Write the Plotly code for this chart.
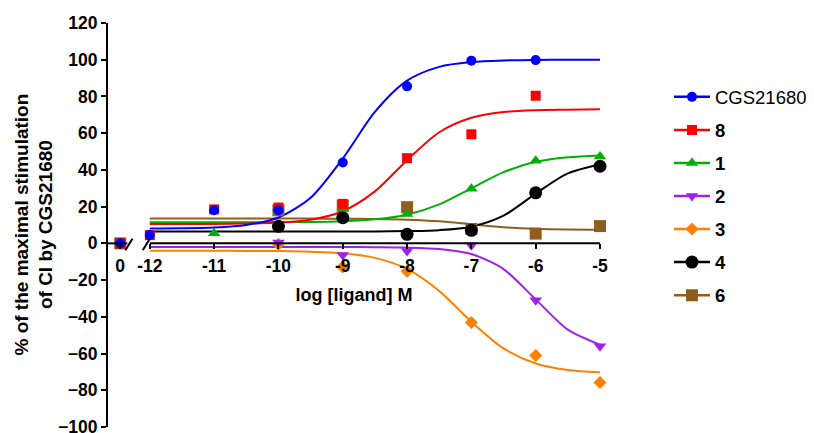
import plotly.graph_objects as go

# ---------------- data ----------------
CONTROL_POS = -12.46                      # where the "0" (control) column sits, left of the axis break
DOSE_LOG = [-12, -11, -10, -9, -8, -7, -6, -5]
POINT_X = [CONTROL_POS] + DOSE_LOG

X_TICK_VALS = [CONTROL_POS] + DOSE_LOG
X_TICK_TEXT = ["0", "-12", "-11", "-10", "-9", "-8", "-7", "-6", "-5"]
Y_TICK_VALS = [-100, -80, -60, -40, -20, 0, 20, 40, 60, 80, 100, 120]

SERIES_NAMES = ["CGS21680", "8", "1", "2", "3", "4", "6"]
Y_TITLE = "% of the maximal stimulation<br>of CI by CGS21680"
X_TITLE = "log [ligand] M"

# measured points (control, -12 ... -5); None = no point
cgs_pts = [0, 4.5, 18, 18, 44, 85.5, 99.5, 99.8, None]
c8_pts = [0, 4.5, 18.5, 19.5, 21.5, 46.4, 59.4, 80.4, None]
c1_pts = [None, None, 5.5, 19.5, 19, 16, 29.7, 45, 47.3]
c2_pts = [None, None, None, 0.5, -6.4, -4.2, -1, -31, -56]
c3_pts = [None, None, None, -0.5, -12.9, -15.2, -43.1, -61, -75.7]
c4_pts = [None, None, None, 9.3, 14, 4.9, 7.1, 27.5, 42]
c6_pts = [0, None, None, 18, 20.5, 19.7, 7.8, 5.3, 9.4]

# fitted curves
CURVE_X = [-12, -11.5, -11, -10.5, -10, -9.5, -9, -8.5, -8, -7.5, -7, -6.5, -6, -5.5, -5]
cgs_fit = [8.1, 8.2, 8.6, 10.0, 14.1, 24.8, 46.2, 71.6, 88.6, 96.1, 98.7, 99.6, 99.9, 100.0, 100.0]
c8_fit = [10.5, 10.5, 10.6, 10.8, 11.3, 12.9, 17.5, 28.3, 45.3, 60.5, 68.4, 71.5, 72.5, 72.8, 73.0]
c1_fit = [11.5, 11.5, 11.5, 11.5, 11.6, 11.7, 12.1, 13.1, 15.6, 21.2, 30.0, 38.8, 44.4, 46.9, 47.9]
c2_fit = [-2.0, -2.0, -2.0, -2.0, -2.0, -2.0, -2.0, -2.1, -2.3, -3.1, -5.8, -14.0, -30.5, -47.0, -55.2]
c3_fit = [-4.0, -4.0, -4.0, -4.1, -4.2, -4.5, -5.4, -7.9, -13.9, -25.9, -42.7, -57.2, -65.4, -68.9, -70.2]
c4_fit = [6.5, 6.5, 6.5, 6.5, 6.5, 6.5, 6.5, 6.5, 6.7, 7.2, 9.1, 15.1, 27.1, 38.1, 43.0]
c6_fit = [13.5, 13.5, 13.5, 13.5, 13.5, 13.5, 13.4, 13.3, 12.9, 12.0, 10.4, 8.8, 7.9, 7.5, 7.4]

# ---------------- styles ----------------
FONT = "Liberation Sans, Arial, Helvetica, sans-serif"
styles = [
    dict(color="#0000FF", symbol="circle", size=10),
    dict(color="#FF0000", symbol="square", size=10),
    dict(color="#00B000", symbol="triangle-up", size=11),
    dict(color="#A020F0", symbol="triangle-down", size=11),
    dict(color="#FF8000", symbol="diamond", size=10),
    dict(color="#000000", symbol="circle", size=13),
    dict(color="#8F5E1E", symbol="square", size=12),
]
points = [cgs_pts, c8_pts, c1_pts, c2_pts, c3_pts, c4_pts, c6_pts]
fits = [cgs_fit, c8_fit, c1_fit, c2_fit, c3_fit, c4_fit, c6_fit]
legend_labels = [SERIES_NAMES[0]] + ["<b>%s</b>" % n for n in SERIES_NAMES[1:]]

fig = go.Figure()

# legend proxies (in legend order)
for i, st in enumerate(styles):
    fig.add_trace(go.Scatter(
        x=[None], y=[None], mode="lines+markers", name=legend_labels[i],
        legendgroup="g%d" % i,
        line=dict(color=st["color"], width=2.5),
        marker=dict(color=st["color"], symbol=st["symbol"], size=st["size"]),
    ))

# actual curves and points, drawn in reverse so CGS21680 ends on top
for i in reversed(range(len(styles))):
    st = styles[i]
    fig.add_trace(go.Scatter(
        x=CURVE_X, y=fits[i], mode="lines", showlegend=False,
        legendgroup="g%d" % i, hoverinfo="skip",
        line=dict(color=st["color"], width=2, shape="spline", smoothing=0.8),
    ))
for i in reversed(range(len(styles))):
    st = styles[i]
    fig.add_trace(go.Scatter(
        x=POINT_X, y=points[i], mode="markers", showlegend=False,
        legendgroup="g%d" % i, cliponaxis=False,
        marker=dict(color=st["color"], symbol=st["symbol"], size=st["size"], line=dict(width=0)),
    ))

# x-axis line with a break between control and -12
X_LEFT = -12.65
axis_line = dict(color="black", width=2)
fig.add_shape(type="line", xref="x", yref="y", x0=X_LEFT, x1=-12.35, y0=0, y1=0, line=axis_line)
fig.add_shape(type="line", xref="x", yref="y", x0=-12.0, x1=-5.0, y0=0, y1=0, line=axis_line)
fig.add_shape(type="line", xref="x", yref="y", x0=-12.38, x1=-12.27, y0=-3.8, y1=2.5, line=axis_line)
fig.add_shape(type="line", xref="x", yref="y", x0=-12.11, x1=-12.0, y0=-3.8, y1=2.5, line=axis_line)

# y-axis title (two lines, rotated)
fig.add_annotation(
    text=Y_TITLE, xref="paper", yref="paper", x=-0.1514, y=0.5,
    xanchor="center", yanchor="middle", textangle=-90, showarrow=False,
    font=dict(family=FONT, size=19, color="black", weight="bold"),
)

fig.update_layout(
    width=814, height=433,
    margin=dict(l=100, r=222, t=15, b=14, autoexpand=False),
    paper_bgcolor="white", plot_bgcolor="white",
    font=dict(family=FONT, color="black"),
    showlegend=True,
    legend=dict(
        x=1.1402, y=0.863, xanchor="left", yanchor="top",
        font=dict(family=FONT, size=18.5, color="black"),
        tracegroupgap=6, itemwidth=36, bgcolor="rgba(0,0,0,0)",
    ),
    xaxis=dict(
        range=[X_LEFT, -5], domain=[0, 1], automargin=False,
        anchor="free", position=100 / 220,
        showline=False, showgrid=False, zeroline=False,
        tickmode="array", tickvals=X_TICK_VALS, ticktext=X_TICK_TEXT,
        ticks="outside", ticklen=5, tickwidth=2, tickcolor="black",
        ticklabelstandoff=2,
        tickfont=dict(family=FONT, size=17.5, color="black", weight="bold"),
        title=dict(text=X_TITLE, standoff=13,
                   font=dict(family=FONT, size=18, color="black", weight="bold")),
    ),
    yaxis=dict(
        range=[-100, 120], domain=[0, 1], automargin=False,
        showline=True, linecolor="black", linewidth=2,
        showgrid=False, zeroline=False,
        tickmode="array", tickvals=Y_TICK_VALS,
        ticks="outside", ticklen=5, tickwidth=2, tickcolor="black",
        tickfont=dict(family=FONT, size=17.5, color="black", weight="bold"),
    ),
)

fig.write_html("out.html")
